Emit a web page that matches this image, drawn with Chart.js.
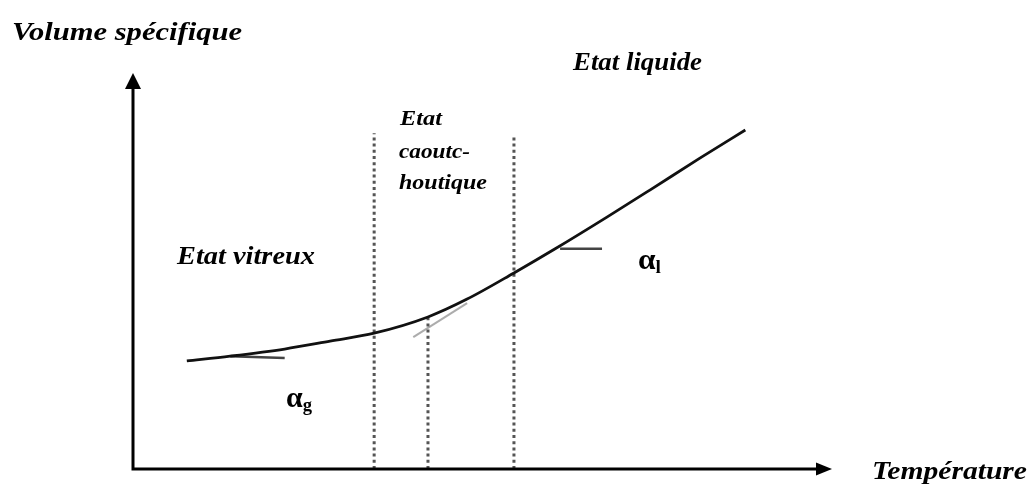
<!DOCTYPE html>
<html>
<head>
<meta charset="utf-8">
<script src="https://cdn.jsdelivr.net/npm/chart.js@4/dist/chart.umd.min.js"></script>
<style>
  html,body{margin:0;padding:0;background:#fff;}
  #wrap{width:1029px;height:488px;position:relative;overflow:hidden;}
  .lbl{position:absolute;white-space:nowrap;line-height:1;color:#000;
       font-family:"Liberation Serif","Times New Roman",Tinos,serif;font-weight:bold;font-style:italic;
       transform-origin:0 0;}
  .lbl.up{font-style:normal;}
  .lbl sub{font-size:0.62em;vertical-align:-0.22em;line-height:0;}
</style>
</head>
<body>
<div id="wrap"><canvas id="c"></canvas></div>
<script>
// schematic: specific volume vs temperature (arbitrary units 0..100)
const curveT = [7.7, 13.9, 21.7, 28.2, 34.5, 42.2, 47.8, 54.5, 60.4, 67.8, 74.0, 81.1, 87.6];
const curveV = [27.3, 28.5, 30.3, 32.3, 34.3, 38.4, 42.9, 49.5, 55.6, 63.6, 70.5, 78.5, 85.6];

// short slope markers (alpha_g, alpha_l) and faint tangent stroke
const slopeGT = [13.9, 21.7], slopeGV = [28.5, 28.0];
const slopeLT = [61.1, 67.1], slopeLV = [55.6, 55.6];
const tangT = [40.1, 47.8], tangV = [33.3, 41.9];

// dotted transition lines: temperature and top of line
const dotT = [34.5, 42.2, 54.5];
const dotTop = [84.8, 38.4, 83.8];

const labels = ['Volume spécifique', 'Etat liquide', 'Etat', 'caoutc-', 'houtique', 'Etat vitreux', 'Température'];

function pts(xs, ys){ return xs.map((x,i)=>({x, y:ys[i]})); }

const dotSets = dotT.map((t,i)=>({
  data: pts([t,t],[0,dotTop[i]]),
  borderColor:'#555', borderWidth:3, borderDash:[3,3.2], borderCapStyle:'butt'
}));

// label boxes in pixels: left, baseline, width to fit, font size
const textPos = [
  {x:12,  y:40,  w:230, size:25},
  {x:573, y:70,  w:129, size:25},
  {x:400, y:126, w:42,  size:21},
  {x:399, y:159, w:71,  size:21},
  {x:399, y:190, w:88,  size:21},
  {x:177, y:264, w:138, size:25},
  {x:872, y:479, w:155, size:25}
];
const greek = [
  {html:'α<sub>l</sub>', x:638, y:269, w:23, size:30},
  {html:'α<sub>g</sub>', x:286, y:407, w:26, size:30}
];

const wrap = document.getElementById('wrap');
function addLabel(html, p, cls){
  const d = document.createElement('div');
  d.className = 'lbl' + (cls ? ' ' + cls : '');
  d.style.fontSize = p.size + 'px';
  d.style.left = p.x + 'px';
  d.style.top = (p.y - 0.8375 * p.size) + 'px';
  d.innerHTML = html;
  wrap.appendChild(d);
  const w = d.getBoundingClientRect().width;
  if(w) d.style.transform = `scaleX(${p.w / w})`;
}
labels.forEach((t,i)=>addLabel(t.replace(/&/g,'&amp;'), textPos[i]));
greek.forEach(g=>addLabel(g.html, g, 'up'));

const axes = {
  id:'axes',
  afterDatasetsDraw(chart){
    const ctx = chart.ctx, sx = chart.scales.x, sy = chart.scales.y;
    const x0 = sx.getPixelForValue(0), y0 = sy.getPixelForValue(0);
    const x1 = sx.getPixelForValue(100), y1 = sy.getPixelForValue(100);
    ctx.save();
    ctx.strokeStyle = '#000'; ctx.fillStyle = '#000'; ctx.lineWidth = 3;
    ctx.beginPath();
    ctx.moveTo(x0, y1 + 14); ctx.lineTo(x0, y0); ctx.lineTo(x1 - 14, y0);
    ctx.stroke();
    ctx.beginPath();
    ctx.moveTo(x0, y1); ctx.lineTo(x0 - 8, y1 + 16); ctx.lineTo(x0 + 8, y1 + 16); ctx.closePath();
    ctx.fill();
    ctx.beginPath();
    ctx.moveTo(x1, y0); ctx.lineTo(x1 - 16, y0 - 6.5); ctx.lineTo(x1 - 16, y0 + 6.5); ctx.closePath();
    ctx.fill();
    ctx.restore();
  }
};

new Chart(document.getElementById('c'), {
  type:'scatter',
  data:{
    datasets:[
      {data:pts(curveT, curveV), borderColor:'#111', borderWidth:2.8, tension:0.4, cubicInterpolationMode:'monotone'},
      {data:pts(slopeGT, slopeGV), borderColor:'#444', borderWidth:2.5},
      {data:pts(slopeLT, slopeLV), borderColor:'#444', borderWidth:2.5},
      {data:pts(tangT, tangV), borderColor:'rgba(90,90,90,.5)', borderWidth:2},
      ...dotSets
    ].map(d=>Object.assign({showLine:true, pointRadius:0, pointHoverRadius:0, fill:false}, d))
  },
  options:{
    responsive:true,
    maintainAspectRatio:false,
    animation:false,
    events:[],
    layout:{padding:{left:133, right:197, top:73, bottom:19}},
    plugins:{legend:{display:false}, tooltip:{enabled:false}},
    scales:{
      x:{type:'linear', min:0, max:100, display:false},
      y:{type:'linear', min:0, max:100, display:false}
    }
  },
  plugins:[axes]
});
</script>
</body>
</html>
